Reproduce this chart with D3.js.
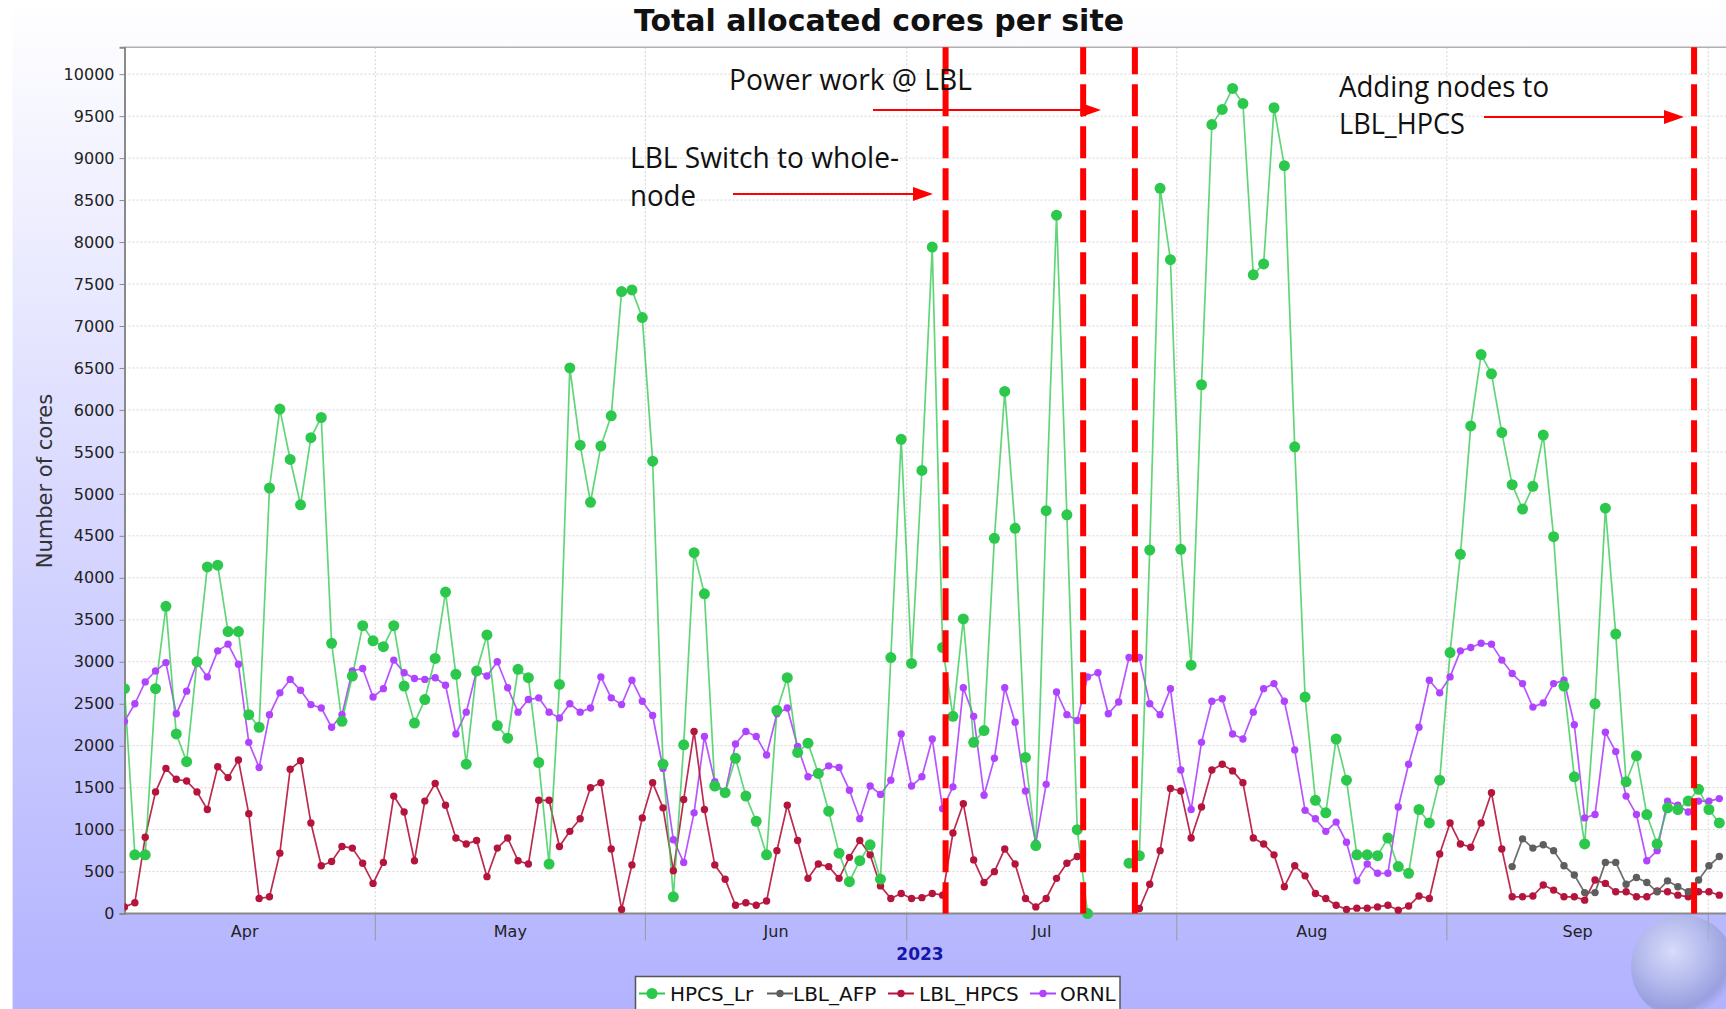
<!DOCTYPE html>
<html>
<head>
<meta charset="utf-8">
<script src="https://cdn.jsdelivr.net/npm/d3@7"></script>
<style>
  body { margin: 0; background: #ffffff; }
  svg { display: block; }
</style>
</head>
<body>
<svg id="chart" width="1726" height="1009"></svg>
<script>
// ---------------- DATA ----------------
const chartTitle = "Total allocated cores per site";
const yAxisLabel = "Number of cores";
const yearLabel = "2023";
const seriesNames = ["HPCS_Lr", "LBL_AFP", "LBL_HPCS", "ORNL"];
const monthLabels = ["Apr", "May", "Jun", "Jul", "Aug", "Sep"];
const monthStarts = ["2023-04-01", "2023-05-01", "2023-06-01", "2023-07-01", "2023-08-01", "2023-09-01", "2023-10-01"];
const yTickValues = [0, 500, 1000, 1500, 2000, 2500, 3000, 3500, 4000, 4500, 5000, 5500, 6000, 6500, 7000, 7500, 8000, 8500, 9000, 9500, 10000];
const firstSample = "2023-04-02T05:00:00";
const lastSample = "2023-10-02T06:30:00";

const hpcsLr = [
  2680, 700, 700, 2680, 3660, 2140, 1810, 3000, 4130, 4150,
  3360, 3360, 2370, 2220, 5070, 6010, 5410, 4870, 5670, 5910,
  3220, 2290, 2830, 3430, 3250, 3180, 3430, 2710, 2270, 2550,
  3040, 3830, 2850, 1780, 2890, 3320, 2240, 2090, 2910, 2810,
  1800, 590, 2730, 6500, 5580, 4900, 5570, 5930, 7410, 7430,
  7100, 5390, 1780, 200, 2010, 4300, 3810, 1520, 1440, 1850,
  1400, 1100, 700, 2420, 2810, 1920, 2030, 1670, 1220, 720,
  380, 630, 820, 410, 3050, 5650, 2980, 5280, 7940, 3170,
  2350, 3510, 2040, 2180, 4470, 6220, 4590, 1860, 810, 4800,
  8320, 4750, 1000, 0, null, null, null, 600, 690, 4330,
  8640, 7790, 4340, 2960, 6300, 9400, 9580, 9830, 9650, 7610,
  7740, 9600, 8910, 5560, 2580, 1350, 1200, 2080, 1590, 700,
  700, 690, 900, 560, 480, 1240, 1080, 1590, 3110, 4280,
  5810, 6660, 6430, 5730, 5110, 4820, 5090, 5700, 4490, 2710,
  1630, 830, 2500, 4830, 3330, 1570, 1880, 1180, 830, 1260,
  1240, 1340, 1480, 1240, 1080
];

const lblAfp = new Array(134).fill(null).concat([
  560, 890, 780, 820, 750, 570, 460, 250, 250, 610,
  610, 350, 430, 370, 260, 390, 320, 260, 400, 570, 680
]);

const lblHpcs = [
  80, 130, 910, 1450, 1730, 1600, 1580, 1450, 1240, 1750,
  1620, 1830, 1190, 180, 200, 720, 1720, 1820, 1080, 570,
  620, 800, 780, 600, 360, 610, 1400, 1210, 630, 1340,
  1550, 1290, 900, 830, 870, 440, 780, 900, 630, 590,
  1350, 1350, 800, 980, 1130, 1500, 1560, 770, 50, 580,
  1140, 1560, 1260, 510, 1360, 2170, 1240, 580, 410, 100,
  130, 100, 150, 750, 1290, 870, 420, 590, 560, 420,
  670, 870, 700, 330, 180, 240, 180, 190, 240, 220,
  960, 1310, 640, 370, 500, 770, 590, 180, 80, 180,
  420, 600, 680, null, null, null, null, null, 60, 350,
  750, 1490, 1460, 900, 1270, 1710, 1780, 1700, 1560, 900,
  830, 700, 320, 570, 450, 240, 180, 100, 50, 65,
  65, 80, 100, 40, 90, 210, 180, 710, 1080, 830,
  790, 1080, 1440, 770, 200, 200, 210, 340, 280, 200,
  200, 160, 400, 360, 260, 260, 200, 200, 270, 260,
  220, 200, 260, 260, 220
];

const ornl = [
  2290, 2500, 2760, 2890, 2990, 2380, 2650, 2990, 2820, 3130,
  3210, 2970, 2040, 1740, 2370, 2630, 2790, 2660, 2490, 2450,
  2220, 2370, 2890, 2920, 2580, 2680, 3020, 2870, 2800, 2790,
  2810, 2720, 2140, 2400, 2890, 2830, 3000, 2690, 2400, 2550,
  2570, 2400, 2330, 2500, 2400, 2450, 2820, 2570, 2490, 2780,
  2530, 2360, 1730, 880, 610, 1200, 2110, 1570, 1440, 2020,
  2170, 2110, 1890, 2380, 2450, 1990, 1630, 1670, 1760, 1740,
  1470, 1130, 1520, 1420, 1590, 2140, 1520, 1630, 2080, 1250,
  1510, 2690, 2350, 1410, 1850, 2690, 2280, 1460, 840, 1540,
  2640, 2370, 2300, 2820, 2870, 2380, 2520, 3050, 3050, 2500,
  2370, 2680, 1710, 1240, 2040, 2530, 2560, 2140, 2080, 2400,
  2680, 2740, 2530, 1950, 1230, 1130, 980, 1090, 850, 390,
  590, 480, 480, 1270, 1780, 2220, 2780, 2630, 2820, 3130,
  3170, 3220, 3210, 3020, 2860, 2740, 2460, 2510, 2740, 2780,
  2250, 1140, 1180, 2160, 1930, 1400, 1180, 630, 750, 1340,
  1290, 1210, 1340, 1340, 1370
];

const markerDates = ["2023-07-05T11:00:00", "2023-07-21T06:00:00", "2023-07-27T04:30:00", "2023-09-29T09:00:00"];
const annotationLines = [
  { text: "Power work @ LBL", x: 729, y: 90, w: 243 },
  { text: "LBL Switch to whole-", x: 630, y: 168, w: 269 },
  { text: "node", x: 630, y: 206, w: 66 },
  { text: "Adding nodes to", x: 1339, y: 97, w: 210 },
  { text: "LBL_HPCS", x: 1339, y: 134, w: 126 }
];
const annotationArrows = [
  { x1: 873, x2: 1101, y: 110 },
  { x1: 733, x2: 933, y: 194 },
  { x1: 1484, x2: 1684, y: 117 }
];

// ---------------- STYLE ----------------
const colors = {
  HPCS_Lr: "#2cc84c",
  LBL_AFP: "#5e5e5e",
  LBL_HPCS: "#b5143c",
  ORNL: "#b043ff"
};
const radius = { HPCS_Lr: 5.5, LBL_AFP: 3.7, LBL_HPCS: 3.7, ORNL: 3.7 };

const W = 1726, H = 1009;
const plotL = 124.5, plotT = 47.3, plotB = 913.6, plotR = 1740;

const svg = d3.select("#chart");
const defs = svg.append("defs");

const bg = defs.append("linearGradient").attr("id", "bgGrad")
  .attr("x1", 0).attr("y1", 0).attr("x2", 0).attr("y2", 1);
bg.append("stop").attr("offset", "0%").attr("stop-color", "#ffffff");
bg.append("stop").attr("offset", "100%").attr("stop-color", "#b2b2ff");

const globe = defs.append("radialGradient").attr("id", "globeGrad")
  .attr("cx", "40%").attr("cy", "35%").attr("r", "65%");
globe.append("stop").attr("offset", "0%").attr("stop-color", "#e4e8fa").attr("stop-opacity", 0.75);
globe.append("stop").attr("offset", "55%").attr("stop-color", "#aeb7e2").attr("stop-opacity", 0.7);
globe.append("stop").attr("offset", "85%").attr("stop-color", "#8793c9").attr("stop-opacity", 0.6);
globe.append("stop").attr("offset", "100%").attr("stop-color", "#8793c9").attr("stop-opacity", 0.0);

defs.append("clipPath").attr("id", "plotClip")
  .append("rect").attr("x", plotL).attr("y", plotT - 6).attr("width", plotR - plotL).attr("height", plotB - plotT + 12);

// chart background
svg.append("rect").attr("x", 0).attr("y", 0).attr("width", W).attr("height", H).attr("fill", "#ffffff");
svg.append("rect").attr("x", 12.6).attr("y", 0).attr("width", W).attr("height", H).attr("fill", "url(#bgGrad)");

// plot background
svg.append("rect").attr("x", plotL).attr("y", plotT).attr("width", plotR - plotL).attr("height", plotB - plotT)
  .attr("fill", "#ffffff");

// ---------------- SCALES ----------------
const parse = d3.isoParse;
const t0 = parse(firstSample), t1 = parse(lastSample);
const n = hpcsLr.length;
const dates = d3.range(n).map(i => new Date(+t0 + i * (t1 - t0) / (n - 1)));
const x = d3.scaleTime().domain([t0, t1]).range([124.5, 1719.3]);
const y = d3.scaleLinear().domain([0, 10320]).range([plotB, plotT]);

// ---------------- GRID ----------------
const grid = svg.append("g");
grid.selectAll("line.h").data(yTickValues.filter(v => v > 0)).join("line")
  .attr("x1", plotL).attr("x2", plotR).attr("y1", d => y(d)).attr("y2", d => y(d))
  .attr("stroke", "#d4d4d4").attr("stroke-width", 1).attr("stroke-dasharray", "2,2");
const monthDates = monthStarts.map(s => parse(s + "T00:00:00"));
grid.selectAll("line.v").data(monthDates.slice(1)).join("line")
  .attr("x1", d => x(d)).attr("x2", d => x(d)).attr("y1", plotT).attr("y2", plotB)
  .attr("stroke", "#d4d4d4").attr("stroke-width", 1).attr("stroke-dasharray", "2,2");

// plot top border
svg.append("line").attr("x1", plotL).attr("x2", plotR).attr("y1", plotT).attr("y2", plotT)
  .attr("stroke", "#b0b0b0").attr("stroke-width", 1.5);

// ---------------- Y AXIS ----------------
const yAxis = d3.axisLeft(y).tickValues(yTickValues).tickSize(5).tickPadding(5).tickFormat(d3.format("d"));
const yg = svg.append("g").attr("transform", `translate(${plotL},0)`).call(yAxis);
yg.select(".domain").attr("stroke", "#8a8a8a").attr("stroke-width", 2);
yg.selectAll(".tick line").attr("stroke", "#8a8a8a");
yg.selectAll(".tick text").attr("font-family", "'DejaVu Sans', sans-serif").attr("font-size", 16).attr("fill", "#222");

svg.append("text")
  .attr("transform", `translate(52,481) rotate(-90)`)
  .attr("text-anchor", "middle")
  .attr("font-family", "'DejaVu Sans', sans-serif").attr("font-size", 21).attr("fill", "#333")
  .text(yAxisLabel);

// ---------------- X AXIS ----------------
svg.append("line").attr("x1", plotL).attr("x2", plotR).attr("y1", plotB).attr("y2", plotB)
  .attr("stroke", "#8a8a8a").attr("stroke-width", 2);
svg.append("g").selectAll("line").data(monthDates.slice(1)).join("line")
  .attr("x1", d => x(d)).attr("x2", d => x(d)).attr("y1", plotB).attr("y2", plotB + 27)
  .attr("stroke", "#9a9a9a").attr("stroke-width", 1);
svg.append("g").selectAll("text").data(monthLabels).join("text")
  .attr("x", (d, i) => (x(monthDates[i]) + x(monthDates[i + 1])) / 2)
  .attr("y", 937)
  .attr("text-anchor", "middle")
  .attr("font-family", "'DejaVu Sans', sans-serif").attr("font-size", 16).attr("fill", "#222")
  .text(d => d);
svg.append("text").attr("x", 920).attr("y", 960).attr("text-anchor", "middle")
  .attr("font-family", "'DejaVu Sans', sans-serif").attr("font-weight", "bold").attr("font-size", 17)
  .attr("fill", "#1616a8").text(yearLabel);

// ---------------- SERIES ----------------
const seriesData = {
  HPCS_Lr: hpcsLr,
  LBL_AFP: lblAfp,
  LBL_HPCS: lblHpcs,
  ORNL: ornl
};
const drawOrder = seriesNames.slice().reverse();
const dataG = svg.append("g").attr("clip-path", "url(#plotClip)");
const line = d3.line().defined(d => d.v !== null).x(d => x(d.t)).y(d => y(d.v));

drawOrder.forEach(name => {
  const pts = seriesData[name].map((v, i) => ({ t: dates[i], v: v }));
  dataG.append("path").datum(pts)
    .attr("d", line)
    .attr("fill", "none")
    .attr("stroke", colors[name])
    .attr("stroke-opacity", name === "HPCS_Lr" ? 0.75 : 0.9)
    .attr("stroke-width", 1.7)
    .attr("stroke-linejoin", "round");
});
drawOrder.forEach(name => {
  const pts = seriesData[name].map((v, i) => ({ t: dates[i], v: v })).filter(d => d.v !== null);
  dataG.append("g").selectAll("circle").data(pts).join("circle")
    .attr("cx", d => x(d.t)).attr("cy", d => y(d.v))
    .attr("r", radius[name])
    .attr("fill", colors[name]);
});

// ---------------- ANNOTATIONS ----------------
svg.append("g").selectAll("line").data(markerDates.map(parse)).join("line")
  .attr("x1", d => x(d)).attr("x2", d => x(d))
  .attr("y1", plotT).attr("y2", plotB)
  .attr("stroke", "#ff0000").attr("stroke-width", 6)
  .attr("stroke-dasharray", "32,10").attr("stroke-dashoffset", 5);

const annG = svg.append("g");
annotationLines.forEach(a => {
  annG.append("text").attr("x", a.x).attr("y", a.y)
    .attr("font-family", "'Open Sans', Lato, sans-serif").attr("font-size", 29)
    .attr("fill", "#111")
    .attr("textLength", a.w).attr("lengthAdjust", "spacingAndGlyphs")
    .text(a.text);
});
annotationArrows.forEach(a => {
  annG.append("line").attr("x1", a.x1).attr("x2", a.x2 - 16).attr("y1", a.y).attr("y2", a.y)
    .attr("stroke", "#ff0000").attr("stroke-width", 2);
  annG.append("path")
    .attr("d", `M${a.x2},${a.y} L${a.x2 - 20},${a.y - 7} L${a.x2 - 20},${a.y + 7} Z`)
    .attr("fill", "#ff0000");
});

// ---------------- TITLE ----------------
svg.append("text").attr("x", 879).attr("y", 31).attr("text-anchor", "middle")
  .attr("font-family", "'DejaVu Sans', sans-serif").attr("font-weight", "bold").attr("font-size", 30)
  .attr("fill", "#111").text(chartTitle);

// ---------------- LEGEND ----------------
const legendItems = [
  { name: "HPCS_Lr", sx: 639, tx: 670 },
  { name: "LBL_AFP", sx: 767, tx: 793 },
  { name: "LBL_HPCS", sx: 888, tx: 919 },
  { name: "ORNL", sx: 1030, tx: 1060 }
];
const lg = svg.append("g");
lg.append("rect").attr("x", 635.5).attr("y", 976.5).attr("width", 484.5).attr("height", 45)
  .attr("fill", "#ffffff").attr("stroke", "#555").attr("stroke-width", 1.5);
legendItems.forEach(it => {
  lg.append("line").attr("x1", it.sx).attr("x2", it.sx + 26).attr("y1", 993.5).attr("y2", 993.5)
    .attr("stroke", colors[it.name]).attr("stroke-width", 2);
  lg.append("circle").attr("cx", it.sx + 13).attr("cy", 993.5)
    .attr("r", it.name === "HPCS_Lr" ? 5.5 : 3.7).attr("fill", colors[it.name]);
  lg.append("text").attr("x", it.tx).attr("y", 1001)
    .attr("font-family", "'DejaVu Sans', sans-serif").attr("font-size", 20).attr("fill", "#111")
    .text(it.name);
});

// decorative glass globe in bottom-right corner of the slide
svg.append("circle").attr("cx", 1683).attr("cy", 967).attr("r", 52).attr("fill", "url(#globeGrad)");
</script>
</body>
</html>
